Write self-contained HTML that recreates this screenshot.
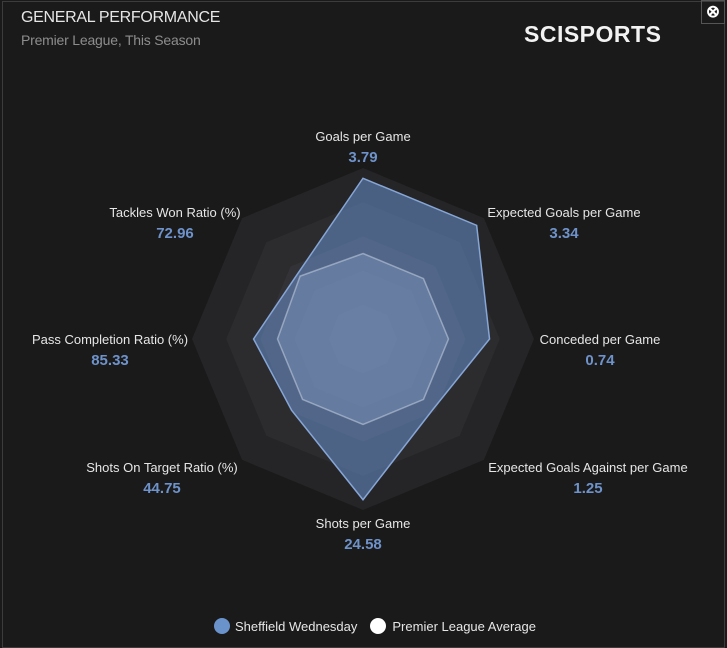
<!DOCTYPE html>
<html><head><meta charset="utf-8">
<style>
body{margin:0;width:727px;height:642px;background:#1a1a1a;overflow:hidden;font-family:"Liberation Sans",sans-serif;}
#frame{position:absolute;left:2px;top:1px;width:721px;height:645px;border:1px solid #3c3c3c;}
.t{position:absolute;color:#e6e6e6;}
</style></head><body>
<div id="frame"></div>
<div class="t" style="left:21px;top:9px;font-size:16px;letter-spacing:-0.3px;">GENERAL PERFORMANCE</div>
<div class="t" style="left:21px;top:32px;font-size:14px;color:#8d8d8d;letter-spacing:-0.2px;">Premier League, This Season</div>
<div class="t" style="left:524px;top:21px;font-size:23px;font-weight:bold;color:#f2f2f2;letter-spacing:0.5px;">SCISPORTS</div>
<div style="position:absolute;left:701px;top:0;width:24px;height:24px;border:1px solid #555;box-sizing:border-box;color:#fff;font-size:17px;font-weight:bold;text-align:center;line-height:22px;">⊗</div>
<svg id="chart" width="727" height="642" style="position:absolute;left:0;top:0"></svg>
<script>
const categories=["Goals per Game","Expected Goals per Game","Conceded per Game","Expected Goals Against per Game","Shots per Game","Shots On Target Ratio (%)","Pass Completion Ratio (%)","Tackles Won Ratio (%)"];
const valueLabels=["3.79","3.34","0.74","1.25","24.58","44.75","85.33","72.96"];
const teamValues=[0.94,0.94,0.74,0.58,0.94,0.59,0.64,0.54];
const avgValues=[0.5,0.5,0.5,0.5,0.5,0.5,0.5,0.52];
const ringLevels=[1,0.8,0.6,0.4,0.2];
const cx=363,cy=339,R=171;
const NS="http://www.w3.org/2000/svg";
const svg=document.getElementById('chart');
function ang(i){return -Math.PI/2+i*Math.PI/4;}
function pt(i,v){return [cx+R*v*Math.cos(ang(i)),cy+R*v*Math.sin(ang(i))];}
function poly(vals){return vals.map((v,i)=>pt(i,v).join(',')).join(' ');}
const ringFills=["#252427","#2c2b2e","#333236","#39393d","#3f3f44"];
ringLevels.forEach((l,k)=>{
 const p=document.createElementNS(NS,'polygon');
 p.setAttribute('points',poly(categories.map(()=>l)));
 p.setAttribute('fill',ringFills[k]);
 
 
 svg.appendChild(p);
});
const s=document.createElementNS(NS,'polygon');
s.setAttribute('points',poly(teamValues));
s.setAttribute('fill','rgba(105,145,205,0.55)');
s.setAttribute('stroke','#86a6d6');
s.setAttribute('stroke-width','1.5');


svg.appendChild(s);
const a=document.createElementNS(NS,'polygon');
a.setAttribute('points',poly(avgValues));
a.setAttribute('fill','rgba(150,175,215,0.3)');
a.setAttribute('stroke','rgba(200,210,225,0.55)');
a.setAttribute('stroke-width','1.5');


svg.appendChild(a);
const labelPos=[[363,141],[564,217],[600,344],[588,472],[363,528],[162,472],[110,344],[175,217]];
categories.forEach((c,i)=>{
 const t=document.createElementNS(NS,'text');
 t.setAttribute('x',labelPos[i][0]);t.setAttribute('y',labelPos[i][1]);
 t.setAttribute('text-anchor','middle');t.setAttribute('fill','#e6e6e6');t.setAttribute('font-size','13');
 t.textContent=c;
 
 
 svg.appendChild(t);
 const v=document.createElementNS(NS,'text');
 v.setAttribute('x',labelPos[i][0]);v.setAttribute('y',labelPos[i][1]+21);
 v.setAttribute('text-anchor','middle');v.setAttribute('fill','#6e92ca');v.setAttribute('font-size','15');v.setAttribute('font-weight','bold');
 v.textContent=valueLabels[i];
 
 
 svg.appendChild(v);
});
</script>
<div style="position:absolute;left:214px;top:618px;font-size:13px;color:#e6e6e6;display:flex;align-items:center;">
<span style="display:flex;align-items:center;"><span style="width:16px;height:16px;border-radius:50%;background:#6a93cc;margin-right:5px;"></span>Sheffield Wednesday</span>
<span style="display:flex;align-items:center;margin-left:13px;"><span style="width:16px;height:16px;border-radius:50%;background:#fff;margin-right:6px;"></span>Premier League Average</span>
</div>
</body></html>
